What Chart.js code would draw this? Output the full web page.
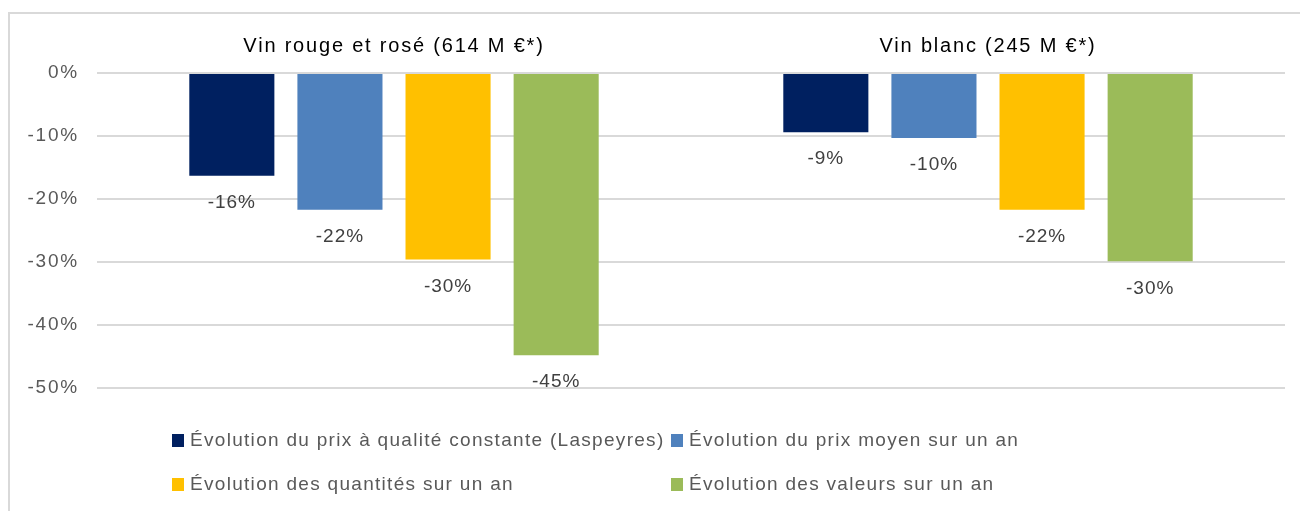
<!DOCTYPE html>
<html>
<head>
<meta charset="utf-8">
<script src="https://cdn.jsdelivr.net/npm/chart.js@4"></script>
<style>
  html, body { margin: 0; padding: 0; background: #fff; }
  #frame { position: absolute; left: 8px; top: 12px; width: 1300px; height: 520px;
           border-left: 2px solid #d9d9d9; border-top: 2px solid #d9d9d9; }
  #wrap { position: absolute; left: 0; top: 0; width: 1300px; height: 511px; }
</style>
</head>
<body>
<div id="frame"></div>
<div id="wrap"><canvas id="chart" width="1300" height="511"></canvas></div>
<script>
const categories = ["Vin rouge et rosé (614 M €*)", "Vin blanc (245 M €*)"];
const seriesNames = [
    "Évolution du prix à qualité constante (Laspeyres)",
    "Évolution du prix moyen sur un an",
    "Évolution des quantités sur un an",
    "Évolution des valeurs sur un an"
];
const laspeyres = [-16.3, -9.4];
const prixMoyen = [-21.7, -10.3];
const quantites = [-29.6, -21.7];
const valeurs = [-44.8, -29.9];
const yTicks = [0, -10, -20, -30, -40, -50];
const colors = ["#002060", "#4f81bd", "#ffc000", "#9bbb59"];

const FONT = "'Liberation Sans', Arial, sans-serif";

// un peu d'espacement pour imiter le rendu Calibri des axes
const spacing = {
    id: 'spacing',
    beforeDraw(chart) { chart.ctx.letterSpacing = "1.8px"; },
    afterDraw(chart) { chart.ctx.letterSpacing = "0px"; }
};

// etiquettes de valeur sous chaque barre
const valueLabels = {
    id: 'valueLabels',
    afterDatasetsDraw(chart) {
        const ctx = chart.ctx;
        ctx.save();
        ctx.letterSpacing = "1px";
        ctx.font = "19px " + FONT;
        ctx.fillStyle = "#404040";
        ctx.textAlign = "center";
        ctx.textBaseline = "middle";
        chart.data.datasets.forEach((ds, i) => {
            chart.getDatasetMeta(i).data.forEach((bar, j) => {
                ctx.fillText(Math.round(ds.data[j]) + "%", bar.x, bar.y + 27);
            });
        });
        ctx.restore();
    }
};

// légende sur deux colonnes alignées
const gridLegend = {
    id: 'gridLegend',
    afterDraw(chart) {
        const ctx = chart.ctx;
        const colX = [172, 671];
        const rowY = [440, 484];
        ctx.save();
        ctx.letterSpacing = "1.3px";
        ctx.font = "19px " + FONT;
        ctx.textBaseline = "middle";
        ctx.textAlign = "left";
        chart.data.datasets.forEach((ds, i) => {
            const x = colX[i % 2];
            const y = rowY[Math.floor(i / 2)];
            ctx.fillStyle = ds.backgroundColor;
            ctx.fillRect(x, y - 6, 12, 13);
            ctx.fillStyle = "#595959";
            ctx.fillText(ds.label, x + 18, y + 1);
        });
        ctx.restore();
    }
};

const data = {
    labels: categories,
    datasets: [
        { label: seriesNames[0], data: laspeyres, backgroundColor: colors[0] },
        { label: seriesNames[1], data: prixMoyen, backgroundColor: colors[1] },
        { label: seriesNames[2], data: quantites, backgroundColor: colors[2] },
        { label: seriesNames[3], data: valeurs, backgroundColor: colors[3] }
    ]
};

const config = {
    type: 'bar',
    data: data,
    options: {
        responsive: false,
        animation: false,
        categoryPercentage: 0.728,
        barPercentage: 0.787,
        layout: {
            padding: { left: 0, right: 15, top: 0, bottom: 123 }
        },
        plugins: {
            legend: { display: false },
            tooltip: { enabled: false }
        },
        scales: {
            x: {
                position: 'top',
                grid: { display: false },
                border: { display: false },
                ticks: {
                    color: "#000",
                    font: { family: FONT, size: 20 },
                    padding: 7
                },
                afterFit(scale) { scale.height = 73; }
            },
            y: {
                min: -50,
                max: 0,
                grid: { color: "#d9d9d9", lineWidth: 2, drawTicks: false },
                border: { display: false },
                afterBuildTicks(scale) {
                    scale.ticks = yTicks.map(v => ({ value: v }));
                },
                ticks: {
                    color: "#595959",
                    font: { family: FONT, size: 19 },
                    padding: 18,
                    callback: v => v + "%"
                },
                afterFit(scale) { scale.width = 97; }
            }
        }
    },
    plugins: [spacing, valueLabels, gridLegend]
};

document.addEventListener("DOMContentLoaded", () => {
    new Chart(document.getElementById('chart'), config);
});
</script>
</body>
</html>
